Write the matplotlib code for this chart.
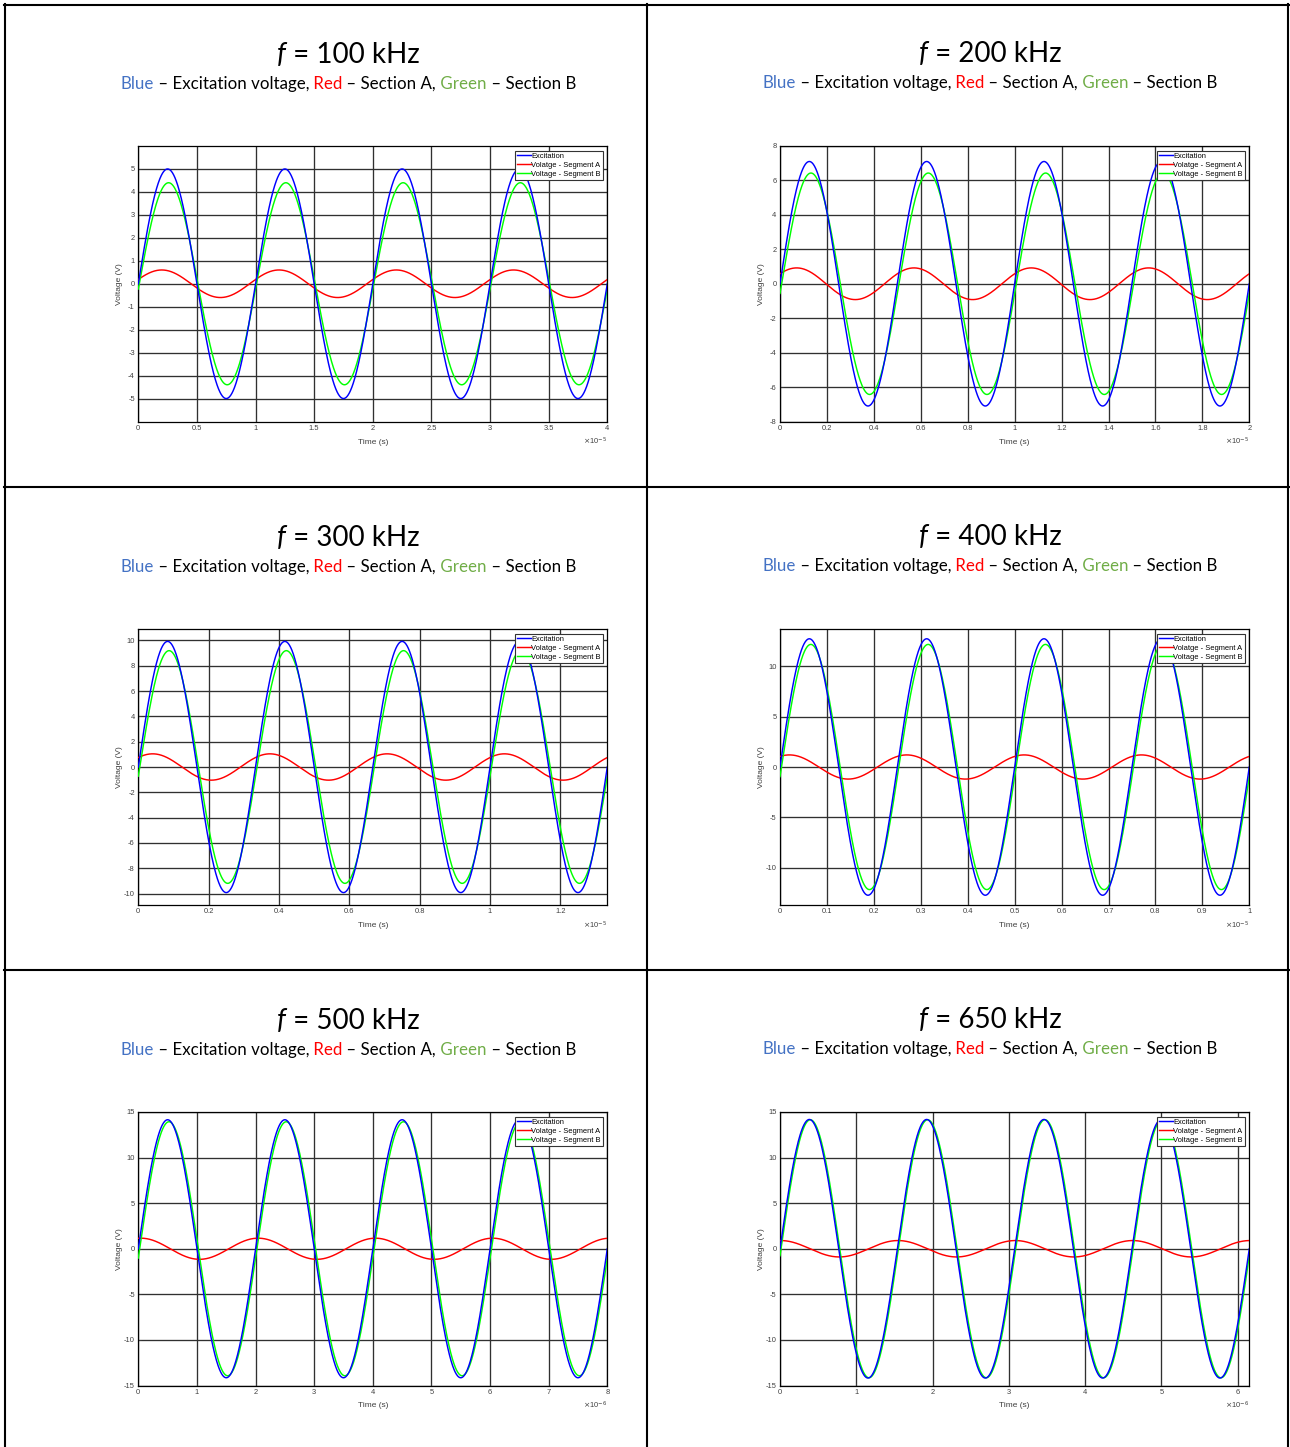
import matplotlib
matplotlib.use("Agg")
import matplotlib.pyplot as plt
import numpy as np
from matplotlib.lines import Line2D
from matplotlib.ticker import FuncFormatter

W, H = 1290, 1447

# values (volts, degrees relative to excitation)
freq_khz = [100, 200, 300, 400, 500, 650]
amp_exc = [5.0, 7.1, 9.92, 12.73, 14.15, 14.18]
amp_a = [0.6, 0.92, 1.04, 1.2, 1.16, 0.9]
phase_a = [18, 39, 46, 61, 82, 88]
amp_b = [4.4, 6.43, 9.19, 12.17, 13.93, 14.15]
phase_b = [-3, -5, -4.5, -4.5, -4.2, -3.1]

# axis settings per panel
x_scale = [1e-5, 1e-5, 1e-5, 1e-5, 1e-6, 1e-6]
x_step = [0.5, 0.2, 0.2, 0.1, 1, 1]
y_lim = [6, 8, 10.9, 13.7, 15, 15]
y_tick_max = [5, 8, 10, 10, 15, 15]
y_step = [1, 2, 2, 5, 5, 5]
legend_labels = ["Excitation", "Volatge - Segment A", "Voltage - Segment B"]
line_colors = ["#0000ff", "#ff0000", "#00ff00"]

title_font = "Lato"
axis_font = "Liberation Sans"

fig = plt.figure(figsize=(W / 100, H / 100), dpi=100)
fig.patch.set_facecolor("white")


def colored_line(pieces, cx, base, size):
    texts = []
    for s, col, st in pieces:
        t = fig.text(0, 0, s, color=col, fontsize=size, style=st,
                     family=title_font, ha="left", va="baseline")
        texts.append(t)
    r = fig.canvas.get_renderer()
    widths = [t.get_window_extent(r).width for t in texts]
    x = cx - sum(widths) / 2
    for t, w in zip(texts, widths):
        t.set_position((x / W, 1 - base / H))
        x += w


# table grid
for x in [5, 647, 1288]:
    fig.add_artist(Line2D([x / W, x / W], [1 - 4 / H, 0], transform=fig.transFigure,
                          color="black", lw=1.5))
for y in [5, 487, 970]:
    fig.add_artist(Line2D([4 / W, 1289 / W], [1 - y / H, 1 - y / H], transform=fig.transFigure,
                          color="black", lw=1.5))

col_left = [138.3, 780]
col_right = [607.3, 1249.3]
row_top = [146, 629, 1112]
row_bottom = [421.5, 905, 1385.5]
title_cx = [348, 990]
title_base = [63, 546, 1029]
sub_base = [89, 572, 1055]

for i, fk in enumerate(freq_khz):
    r, c = divmod(i, 2)
    f = fk * 1e3
    t_end = 4 / f
    t = np.linspace(0, t_end, 2000)
    w = 2 * np.pi * f
    v_exc = amp_exc[i] * np.sin(w * t)
    v_a = amp_a[i] * np.sin(w * t + np.radians(phase_a[i]))
    v_b = amp_b[i] * np.sin(w * t + np.radians(phase_b[i]))

    left, right = col_left[c], col_right[c]
    top, bottom = row_top[r], row_bottom[r]
    ax = fig.add_axes([left / W, 1 - bottom / H, (right - left) / W, (bottom - top) / H])
    l1, = ax.plot(t, v_exc, color=line_colors[0], lw=1.05, zorder=4)
    l2, = ax.plot(t, v_a, color=line_colors[1], lw=1.05, zorder=3)
    l3, = ax.plot(t, v_b, color=line_colors[2], lw=1.05, zorder=3.5)

    ax.set_xlim(0, t_end)
    ax.set_ylim(-y_lim[i], y_lim[i])
    sc = x_scale[i]
    ax.set_xticks(np.arange(0, t_end / sc + 1e-9, x_step[i]) * sc)
    ax.set_yticks(np.arange(-y_tick_max[i], y_tick_max[i] + 1e-9, y_step[i]))
    ax.xaxis.set_major_formatter(FuncFormatter(lambda v, p, sc=sc: f"{round(v / sc, 6):g}"))
    ax.yaxis.set_major_formatter(FuncFormatter(lambda v, p: f"{round(v, 6):g}"))
    ax.tick_params(direction="in", length=2, width=0.5, labelsize=5.4,
                   colors="#404040", pad=2.5)
    for lab in ax.get_xticklabels() + ax.get_yticklabels():
        lab.set_family(axis_font)
    ax.grid(True, color="#303030", lw=0.95)
    ax.set_axisbelow(True)
    for sp in ax.spines.values():
        sp.set_color("black")
        sp.set_linewidth(0.9)

    ax.set_xlabel("Time (s)", fontsize=6, family=axis_font, color="#404040")
    ax.set_ylabel("Voltage (V)", fontsize=6, family=axis_font, color="#404040")
    ax.xaxis.set_label_coords(0.5, -0.062)
    ax.yaxis.set_label_coords(-0.033, 0.5)
    exp = int(round(np.log10(sc)))
    ax.text(1.0, -0.072, r"$\times$10$^{%d}$" % exp, transform=ax.transAxes,
            ha="right", va="center", fontsize=5.4, color="#404040", family=axis_font)

    leg = ax.legend([l1, l2, l3], legend_labels, loc="upper right",
                    prop={"family": axis_font, "size": 5.4},
                    frameon=True, fancybox=False, framealpha=1,
                    borderaxespad=0.6, borderpad=0.25, labelspacing=0.25,
                    handlelength=1.8, handletextpad=0.1)
    leg.get_frame().set_edgecolor("#333333")
    leg.get_frame().set_linewidth(0.8)
    leg.set_zorder(10)

    cx = title_cx[c]
    shift = c * 1
    colored_line([("f", "black", "italic"), (f" = {fk} kHz", "black", "normal")],
                 cx, title_base[r] - shift, 20)
    colored_line([("Blue", "#4472c4", "normal"),
                  (" \u2013 Excitation voltage,", "black", "normal"),
                  (" Red", "#ff0000", "normal"),
                  (" \u2013 Section A,", "black", "normal"),
                  (" Green", "#70ad47", "normal"),
                  (" \u2013 Section B", "black", "normal")],
                 cx, sub_base[r] - shift, 12.15)

fig.savefig("out.png", dpi=100, facecolor="white")
